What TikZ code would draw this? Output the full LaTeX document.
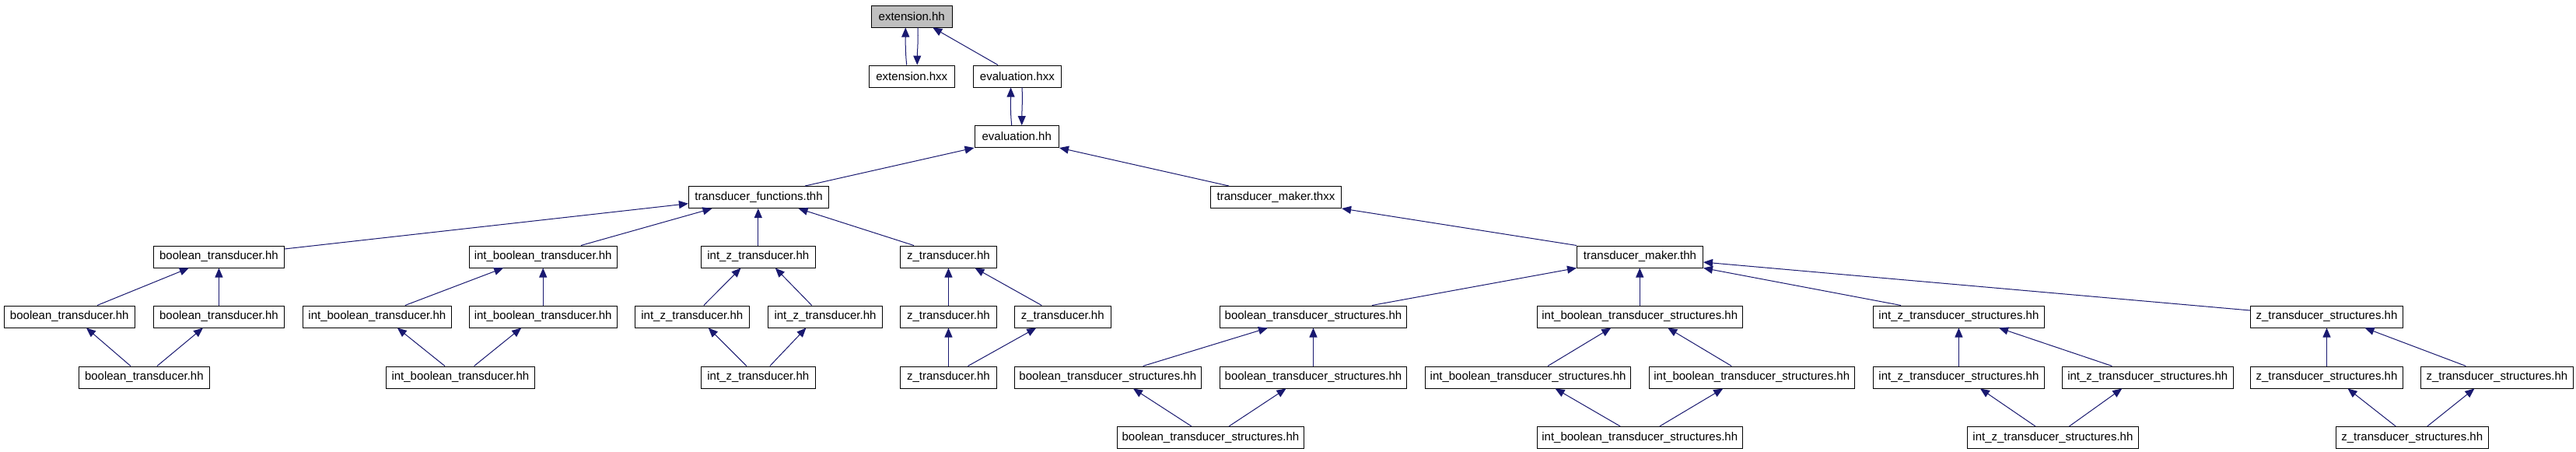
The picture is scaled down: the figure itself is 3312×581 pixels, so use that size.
\documentclass[tikz,border=0pt]{standalone}
\usepackage{fontspec}
\setmainfont{Liberation Sans}
\usetikzlibrary{arrows.meta}
\definecolor{edgeblue}{HTML}{191970}
\definecolor{rootgray}{HTML}{BFBFBF}
\tikzset{
  file/.style={draw=black, line width=1pt, fill=white, inner sep=0pt,
    minimum height=28pt, font=\fontsize{15}{18}\selectfont},
  root/.style={file, fill=rootgray},
  dep/.style={draw=edgeblue, line width=1pt, -{Triangle[length=12pt,width=10pt]}}
}
\begin{document}
\begin{tikzpicture}[x=1pt,y=-1pt]
\useasboundingbox (0,0) rectangle (3312,581);
\fill[white] (0,0) rectangle (3312,581);
% row 0-3
\node[root, minimum width=103.5pt] (exthh) at (1172.25,21) {extension.hh};
\node[file, minimum width=109.5pt] (exthxx) at (1172.25,98) {extension.hxx};
\node[file, minimum width=113pt] (evalhxx) at (1307.85,98) {evaluation.hxx};
\node[file, minimum width=108.5pt] (evalhh) at (1307.25,175.5) {evaluation.hh};
\node[file, minimum width=180.3pt] (tf) at (975.55,253.5) {transducer\_functions.thh};
\node[file, minimum width=168.3pt] (tmx) at (1640.45,253.5) {transducer\_maker.thxx};
% row 4
\node[file, minimum width=168pt] (bt2) at (281.45,330) {boolean\_transducer.hh};
\node[file, minimum width=190pt] (ibt2) at (698.2,330) {int\_boolean\_transducer.hh};
\node[file, minimum width=147pt] (izt2) at (974.8,330) {int\_z\_transducer.hh};
\node[file, minimum width=124pt] (z2) at (1219.45,330) {z\_transducer.hh};
\node[file, minimum width=162pt] (tmh) at (2108.5,330) {transducer\_maker.thh};
% row 5
\node[file, minimum width=168pt] (bt3a) at (89.3,407) {boolean\_transducer.hh};
\node[file, minimum width=168pt] (bt3b) at (281.45,407) {boolean\_transducer.hh};
\node[file, minimum width=191pt] (ibt3a) at (484.85,407) {int\_boolean\_transducer.hh};
\node[file, minimum width=190pt] (ibt3b) at (698.2,407) {int\_boolean\_transducer.hh};
\node[file, minimum width=147pt] (izt3a) at (889.8,407) {int\_z\_transducer.hh};
\node[file, minimum width=147pt] (izt3b) at (1061,407) {int\_z\_transducer.hh};
\node[file, minimum width=124pt] (z3a) at (1219.45,407) {z\_transducer.hh};
\node[file, minimum width=124pt] (z3b) at (1366.25,407) {z\_transducer.hh};
\node[file, minimum width=240pt] (bts5) at (1688.5,407) {boolean\_transducer\_structures.hh};
\node[file, minimum width=264pt] (ibts5) at (2108.25,407) {int\_boolean\_transducer\_structures.hh};
\node[file, minimum width=220pt] (izts5) at (2518.4,407) {int\_z\_transducer\_structures.hh};
\node[file, minimum width=196pt] (zts5) at (2991.5,407) {z\_transducer\_structures.hh};
% row 6
\node[file, minimum width=168pt] (bt4) at (185.35,485) {boolean\_transducer.hh};
\node[file, minimum width=191pt] (ibt4) at (591.95,485) {int\_boolean\_transducer.hh};
\node[file, minimum width=147pt] (izt4) at (974.8,485) {int\_z\_transducer.hh};
\node[file, minimum width=124pt] (z4) at (1219.45,485) {z\_transducer.hh};
\node[file, minimum width=240pt] (bts6a) at (1424.3,485) {boolean\_transducer\_structures.hh};
\node[file, minimum width=240pt] (bts6b) at (1688.5,485) {boolean\_transducer\_structures.hh};
\node[file, minimum width=264pt] (ibts6a) at (1964.6,485) {int\_boolean\_transducer\_structures.hh};
\node[file, minimum width=264pt] (ibts6b) at (2252.25,485) {int\_boolean\_transducer\_structures.hh};
\node[file, minimum width=220pt] (izts6a) at (2518.4,485) {int\_z\_transducer\_structures.hh};
\node[file, minimum width=220pt] (izts6b) at (2761.25,485) {int\_z\_transducer\_structures.hh};
\node[file, minimum width=196pt] (zts6a) at (2991.5,485) {z\_transducer\_structures.hh};
\node[file, minimum width=196pt] (zts6b) at (3210.35,485) {z\_transducer\_structures.hh};
% row 7
\node[file, minimum width=240pt] (bts7) at (1556.4,562.5) {boolean\_transducer\_structures.hh};
\node[file, minimum width=264pt] (ibts7) at (2108.25,562.5) {int\_boolean\_transducer\_structures.hh};
\node[file, minimum width=220pt] (izts7) at (2639.4,562.5) {int\_z\_transducer\_structures.hh};
\node[file, minimum width=196pt] (zts7) at (3101.25,562.5) {z\_transducer\_structures.hh};

% edges top
\draw[dep] ([xshift=-6.5pt]exthxx.north) .. controls ([xshift=-8.5pt,yshift=18pt]exthxx.north) and ([xshift=-8pt,yshift=-15pt]exthh.south) .. ([xshift=-8pt]exthh.south);
\draw[dep] ([xshift=7.8pt]exthh.south) .. controls ([xshift=8.5pt,yshift=-18pt]exthh.south) and ([xshift=7pt,yshift=15pt]exthxx.north) .. ([xshift=7pt]exthxx.north);
\draw[dep] ([xshift=-24.85pt]evalhxx.north) -- ([xshift=27pt]exthh.south);
\draw[dep] ([xshift=-6.5pt]evalhh.north) .. controls ([xshift=-8.5pt,yshift=18pt]evalhh.north) and ([xshift=-8.3pt,yshift=-15pt]evalhxx.south) .. ([xshift=-8.3pt]evalhxx.south);
\draw[dep] ([xshift=6.2pt]evalhxx.south) .. controls ([xshift=7pt,yshift=-18pt]evalhxx.south) and ([xshift=6.5pt,yshift=15pt]evalhh.north) .. ([xshift=6.5pt]evalhh.north);
\draw[dep] ([xshift=59.5pt]tf.north) -- (evalhh.south west);
\draw[dep] ([xshift=-60.5pt]tmx.north) -- (evalhh.south east);
% transducer_functions subtree
\draw[dep] ([yshift=10pt]bt2.east) -- ([yshift=-8.2pt]tf.west);
\draw[dep] ([xshift=48.8pt]ibt2.north) -- ([xshift=-60pt]tf.south);
\draw[dep] (izt2.north) -- (izt2.north |- tf.south);
\draw[dep] ([xshift=-44.5pt]z2.north) -- ([xshift=51pt]tf.south);
\draw[dep] ([xshift=35.7pt]bt3a.north) -- ([xshift=-38.5pt]bt2.south);
\draw[dep] (bt3b.north) -- (bt2.south);
\draw[dep] ([xshift=-17.4pt]bt4.north) -- ([xshift=21.7pt]bt3a.south);
\draw[dep] ([xshift=16.6pt]bt4.north) -- ([xshift=-20.5pt]bt3b.south);
\draw[dep] ([xshift=36pt]ibt3a.north) -- ([xshift=-51pt]ibt2.south);
\draw[dep] (ibt3b.north) -- (ibt2.south);
\draw[dep] ([xshift=-20pt]ibt4.north) -- ([xshift=26pt]ibt3a.south);
\draw[dep] ([xshift=17.6pt]ibt4.north) -- ([xshift=-28pt]ibt3b.south);
\draw[dep] ([xshift=15pt]izt3a.north) -- ([xshift=-22.3pt]izt2.south);
\draw[dep] ([xshift=-17.4pt]izt3b.north) -- ([xshift=22pt]izt2.south);
\draw[dep] ([xshift=-15pt]izt4.north) -- ([xshift=21pt]izt3a.south);
\draw[dep] ([xshift=15pt]izt4.north) -- ([xshift=-24.6pt]izt3b.south);
\draw[dep] (z3a.north) -- (z2.south);
\draw[dep] ([xshift=-27pt]z3b.north) -- ([xshift=34pt]z2.south);
\draw[dep] (z4.north) -- (z3a.south);
\draw[dep] ([xshift=25pt]z4.north) -- ([xshift=-34pt]z3b.south);
% transducer_maker subtree
\draw[dep] (tmh.north west) -- (tmx.south east);
\draw[dep] ([xshift=75.5pt]bts5.north) -- (tmh.south west);
\draw[dep] (ibts5.north) -- (ibts5.north |- tmh.south);
\draw[dep] ([xshift=-74.4pt]izts5.north) -- (tmh.south east);
\draw[dep] ([yshift=8pt]zts5.west) -- ([yshift=-7pt]tmh.east);
\draw[dep] ([xshift=45.3pt]bts6a.north) -- ([xshift=-58.5pt]bts5.south);
\draw[dep] (bts6b.north) -- (bts5.south);
\draw[dep] ([xshift=-24.4pt]bts7.north) -- ([xshift=32.7pt]bts6a.south);
\draw[dep] ([xshift=23.6pt]bts7.north) -- ([xshift=-35pt]bts6b.south);
\draw[dep] ([xshift=25.4pt]ibts6a.north) -- ([xshift=-37pt]ibts5.south);
\draw[dep] ([xshift=-26pt]ibts6b.north) -- ([xshift=36pt]ibts5.south);
\draw[dep] ([xshift=-25pt]ibts7.north) -- ([xshift=35pt]ibts6a.south);
\draw[dep] ([xshift=25.5pt]ibts7.north) -- ([xshift=-37pt]ibts6b.south);
\draw[dep] (izts6a.north) -- (izts5.south);
\draw[dep] ([xshift=-45.8pt]izts6b.north) -- ([xshift=51.6pt]izts5.south);
\draw[dep] ([xshift=-22.4pt]izts7.north) -- ([xshift=27.6pt]izts6a.south);
\draw[dep] ([xshift=21pt]izts7.north) -- ([xshift=-33pt]izts6b.south);
\draw[dep] (zts6a.north) -- (zts5.south);
\draw[dep] ([xshift=-40pt]zts6b.north) -- ([xshift=49pt]zts5.south);
\draw[dep] ([xshift=-21pt]zts7.north) -- ([xshift=27pt]zts6a.south);
\draw[dep] ([xshift=19.5pt]zts7.north) -- ([xshift=-29pt]zts6b.south);
\end{tikzpicture}
\end{document}
